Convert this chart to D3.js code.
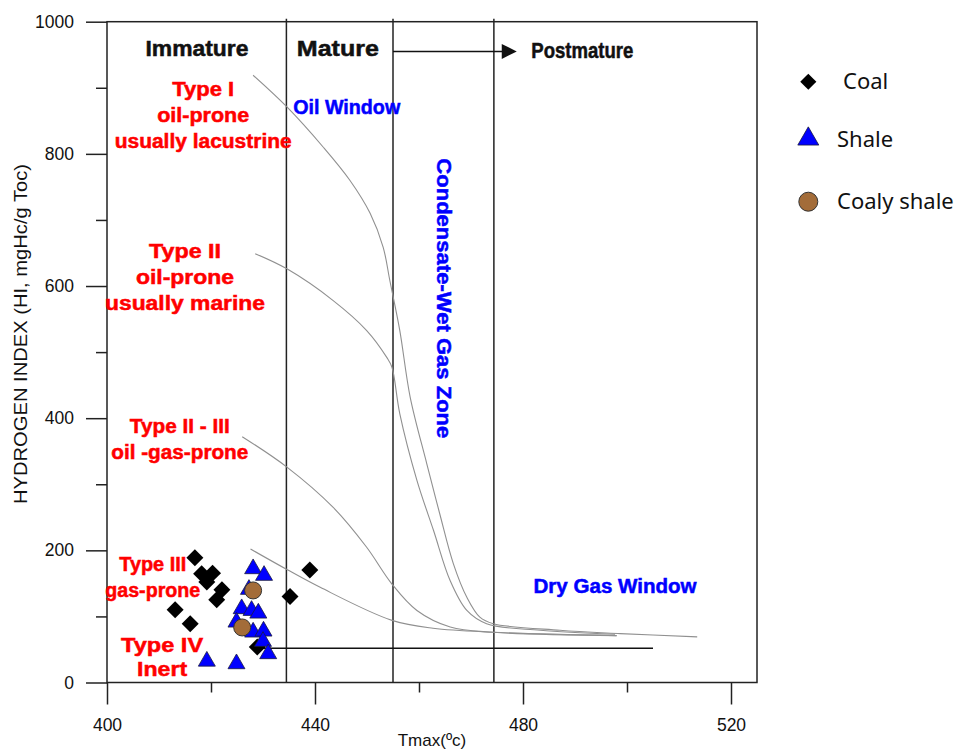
<!DOCTYPE html>
<html>
<head>
<meta charset="utf-8">
<script src="https://cdn.jsdelivr.net/npm/d3@7/dist/d3.min.js"></script>
<style>
  html, body { margin: 0; padding: 0; background: #fff; }
  svg { display: block; }
</style>
</head>
<body>
<svg id="chart" width="966" height="752"></svg>
<script>
// ---- Data: Tmax (°C) vs Hydrogen Index (mg HC/g TOC) ----
const coal = [
  [416.9, 188.8], [418.2, 164.6], [420.3, 165.5], [419.2, 151.9],
  [422.1, 140.4], [421.1, 125.2], [413.1, 110.1], [416.0, 88.9],
  [435.2, 130.2], [439.0, 170.3], [428.9, 53.7]
];
const shale = [
  [428.1, 172.1], [430.2, 162.0], [427.3, 140.8], [425.9, 111.6],
  [427.8, 109.0], [429.1, 104.9], [424.9, 91.3], [428.1, 76.2],
  [430.1, 77.7], [430.0, 62.1], [431.0, 43.5], [419.2, 32.2], [424.9, 28.3]
];
const coalyShale = [[428.1, 139.3], [426.0, 83.3]];

// Kerogen type maturation paths
const typeIPath = [
  [428.1, 919], [434.6, 871], [441.6, 810], [446.7, 760], [450.6, 710],
  [453.1, 659], [454.4, 608], [456.3, 533], [458.3, 432], [461.5, 331],
  [464.0, 255], [466.6, 180], [469.2, 129], [471.7, 99], [474.3, 89],
  [487.1, 79], [498.7, 74], [513.5, 69]
];
const typeIIPath = [
  [428.5, 649], [434.6, 626], [443.5, 578], [449.9, 533], [453.8, 492],
  [454.8, 477], [456.3, 407], [459.6, 306], [462.8, 230], [466.0, 154],
  [469.2, 109], [473.0, 89], [483.3, 79], [497.7, 73]
];
const typeIIIIPath = [
  [426.0, 372], [434.6, 326], [443.5, 265], [449.9, 205], [454.8, 149],
  [459.6, 109], [466.0, 84], [474.3, 76], [498.0, 71]
];
const typeIIIPath = [
  [427.6, 202], [434.6, 171], [441.0, 144], [454.8, 94], [462.7, 82],
  [474.2, 76], [498.0, 71]
];

const maturityBounds = [434.5, 455, 474.4];
const inertLine = [[428.9, 52], [505, 52]];
const postmatureArrow = [[455, 955], [478.8, 955]];

const xMajorTicks = [400, 440, 480, 520];
const xMinorTicks = [420, 460, 500];
const yMajorTicks = [0, 200, 400, 600, 800, 1000];
const yMinorTicks = [100, 300, 500, 700, 900];

const legendItems = ["Coal", "Shale", "Coaly shale"];

// ---- Layout ----
const svg = d3.select("#chart");
const x = d3.scaleLinear().domain([400, 525]).range([107, 757]);
const y = d3.scaleLinear().domain([0, 1000]).range([682.5, 21.7]);
const FONT = "'Liberation Sans', Arial, sans-serif";
const RED = "#ff0000", BLUE = "#0000ff";

// Axes
const yAxis = svg.append("g").attr("transform", `translate(${x(400)},0)`)
  .call(d3.axisLeft(y).tickValues(yMajorTicks).tickSize(21).tickPadding(12).tickFormat(d3.format("d")));
const yAxisMinor = svg.append("g").attr("transform", `translate(${x(400)},0)`)
  .call(d3.axisLeft(y).tickValues(yMinorTicks).tickSize(11).tickFormat(""));
const xAxis = svg.append("g").attr("transform", `translate(0,${y(0)})`)
  .call(d3.axisBottom(x).tickValues(xMajorTicks).tickSize(22).tickPadding(14).tickFormat(d3.format("d")));
const xAxisMinor = svg.append("g").attr("transform", `translate(0,${y(0)})`)
  .call(d3.axisBottom(x).tickValues(xMinorTicks).tickSize(10).tickFormat(""));

[yAxis, yAxisMinor, xAxis, xAxisMinor].forEach(g => {
  g.select(".domain").remove();
  g.selectAll("line").attr("stroke", "#222").attr("stroke-width", 1.5);
  g.selectAll("text").attr("font-family", FONT).attr("font-size", 17.5).attr("fill", "#111");
});

// Plot frame
svg.append("rect")
  .attr("x", x(400)).attr("y", y(1000))
  .attr("width", x(525) - x(400)).attr("height", y(0) - y(1000))
  .attr("fill", "none").attr("stroke", "#222").attr("stroke-width", 1.5);

// Maturity boundaries
svg.selectAll(".bound").data(maturityBounds).enter().append("line")
  .attr("x1", d => x(d)).attr("x2", d => x(d))
  .attr("y1", y(1000) - 3).attr("y2", y(0))
  .attr("stroke", "#222").attr("stroke-width", 1.5);

// Maturation paths
const line = d3.line().x(d => x(d[0])).y(d => y(d[1])).curve(d3.curveCatmullRom.alpha(0.5));
[typeIPath, typeIIPath, typeIIIIPath, typeIIIPath].forEach(p => {
  svg.append("path").attr("d", line(p))
    .attr("fill", "none").attr("stroke", "#909090").attr("stroke-width", 1.1);
});

// Inert baseline
svg.append("line")
  .attr("x1", x(inertLine[0][0])).attr("x2", x(inertLine[1][0]))
  .attr("y1", y(inertLine[0][1])).attr("y2", y(inertLine[1][1]))
  .attr("stroke", "#111").attr("stroke-width", 1.5);

// Arrow towards postmature zone
const ax1 = x(postmatureArrow[0][0]), ax2 = x(postmatureArrow[1][0]), ay = y(postmatureArrow[0][1]);
svg.append("line").attr("x1", ax1).attr("x2", ax2 - 14).attr("y1", ay).attr("y2", ay)
  .attr("stroke", "#111").attr("stroke-width", 1.5);
svg.append("path")
  .attr("d", `M${ax2},${ay} L${ax2 - 15},${ay - 7.5} L${ax2 - 15},${ay + 7.5} Z`)
  .attr("fill", "#111");

// Annotation labels: lines, anchor (Tmax, HI of first baseline), colour, font size, line widths
const labels = [
  { lines: ["Immature"], x: 417.3, y: 948, color: "#111", size: 22, w: [103], gap: 26 },
  { lines: ["Mature"], x: 444.4, y: 948, color: "#111", size: 22, w: [82], gap: 26 },
  { lines: ["Postmature"], x: 491.4, y: 945, color: "#111", size: 22, w: [102], gap: 26 },
  { lines: ["Oil Window"], x: 446.1, y: 861, color: BLUE, size: 20, w: [107], gap: 26 },
  { lines: ["Type I", "oil-prone", "usually lacustrine"], x: 418.5, y: 887.5, color: RED, size: 20, w: [62, 92, 177], gap: 26 },
  { lines: ["Type II", "oil-prone", "usually marine"], x: 415, y: 642.4, color: RED, size: 20, w: [72, 98, 160], gap: 26 },
  { lines: ["Type II - III", "oil -gas-prone"], x: 414, y: 377.6, color: RED, size: 20, w: [100, 137], gap: 26 },
  { lines: ["Type III", "gas-prone"], x: 408.8, y: 168.7, color: RED, size: 20, w: [67, 95], gap: 26 },
  { lines: ["Type IV", "Inert"], x: 410.6, y: 46.2, color: RED, size: 20, w: [82, 50], gap: 24 },
  { lines: ["Dry Gas Window"], x: 497.7, y: 135.4, color: BLUE, size: 20, w: [163], gap: 26 }
];
labels.forEach(l => {
  l.lines.forEach((t, i) => {
    svg.append("text")
      .attr("x", x(l.x)).attr("y", y(l.y) + i * l.gap)
      .attr("text-anchor", "middle")
      .attr("font-family", FONT).attr("font-weight", 700).attr("font-size", l.size)
      .attr("textLength", l.w[i]).attr("lengthAdjust", "spacingAndGlyphs")
      .attr("fill", l.color).attr("stroke", l.color).attr("stroke-width", 0.5)
      .text(t);
  });
});

// Vertical zone label
svg.append("text")
  .attr("transform", `translate(${x(464.9)},${y(581.4)}) rotate(90)`)
  .attr("text-anchor", "middle").attr("dominant-baseline", "central")
  .attr("font-family", FONT).attr("font-weight", 700).attr("font-size", 20.5)
  .attr("textLength", 280).attr("lengthAdjust", "spacingAndGlyphs")
  .attr("fill", BLUE).attr("stroke", BLUE).attr("stroke-width", 0.5)
  .text("Condensate-Wet Gas Zone");

// Axis titles
svg.append("text")
  .attr("transform", `translate(20,334) rotate(-90)`)
  .attr("text-anchor", "middle").attr("dominant-baseline", "central")
  .attr("font-family", FONT).attr("font-size", 18.5).attr("fill", "#111")
  .attr("textLength", 340).attr("lengthAdjust", "spacingAndGlyphs")
  .text("HYDROGEN INDEX (HI, mgHc/g Toc)");
svg.append("text")
  .attr("x", 432).attr("y", 746).attr("text-anchor", "middle")
  .attr("font-family", FONT).attr("font-size", 17).attr("fill", "#111")
  .text("Tmax(ºc)");

// Markers
const diamond = d3.symbol().type(d3.symbolSquare).size(144);
const triangle = d3.symbol().type(d3.symbolTriangle).size(125);

svg.append("g").selectAll("path").data(coal).enter().append("path")
  .attr("d", diamond)
  .attr("transform", d => `translate(${x(d[0])},${y(d[1])}) rotate(45)`)
  .attr("fill", "#000");

svg.append("g").selectAll("path").data(shale).enter().append("path")
  .attr("d", triangle)
  .attr("transform", d => `translate(${x(d[0])},${y(d[1])})`)
  .attr("fill", BLUE).attr("stroke", "#1a1a40").attr("stroke-width", 0.8);

svg.append("g").selectAll("circle").data(coalyShale).enter().append("circle")
  .attr("cx", d => x(d[0])).attr("cy", d => y(d[1])).attr("r", 8.5)
  .attr("fill", "#a36c39").attr("stroke", "#333").attr("stroke-width", 1);

// Legend
const legend = svg.append("g").attr("font-family", "'Noto Sans', 'Open Sans', sans-serif")
  .attr("font-size", 22).attr("fill", "#111");
const legendY = [81.7, 139, 201.7];
const legendTextX = [843, 837, 837];
legend.append("path").attr("d", d3.symbol().type(d3.symbolSquare).size(130)())
  .attr("transform", `translate(808.3,${legendY[0]}) rotate(45)`).attr("fill", "#000");
legend.append("path").attr("d", d3.symbol().type(d3.symbolTriangle).size(191)())
  .attr("transform", `translate(808.3,${legendY[1]})`)
  .attr("fill", BLUE).attr("stroke", "#1a1a40").attr("stroke-width", 0.8);
legend.append("circle").attr("cx", 808.3).attr("cy", legendY[2]).attr("r", 9.5)
  .attr("fill", "#a36c39").attr("stroke", "#333").attr("stroke-width", 1);
legendItems.forEach((t, i) => {
  legend.append("text").attr("x", legendTextX[i]).attr("y", legendY[i] + 7.5)
    .attr("fill", "#111").text(t);
});
</script>
</body>
</html>
